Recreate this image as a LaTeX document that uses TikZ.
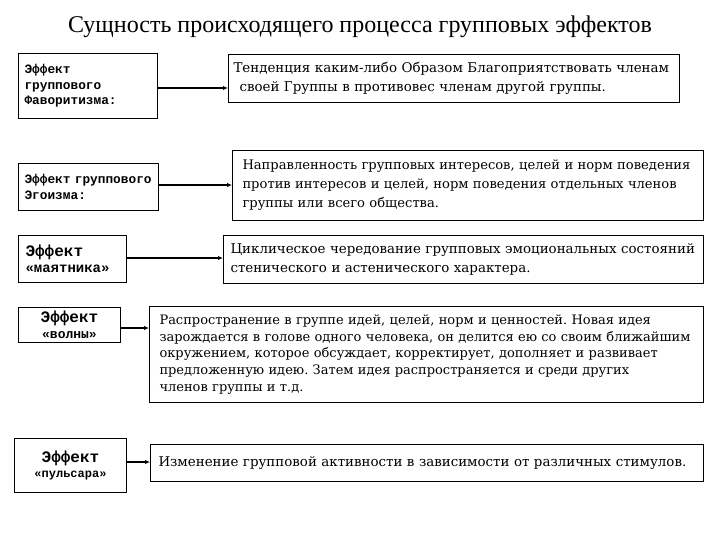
\documentclass[tikz,border=0pt]{standalone}
\usepackage{fontspec}
\setmainfont{DejaVu Serif}
\newfontfamily\tfont{Liberation Serif}
\newfontfamily\lfont{Liberation Mono}
\usetikzlibrary{arrows.meta}
\frenchspacing
\newcommand{\tline}[1]{\mbox{#1}}
\begin{document}
\begin{tikzpicture}[x=1pt,y=-1pt,
  lbox/.style={draw, line width=1pt, anchor=north west, inner ysep=0pt, font={\lfont\bfseries\fontsize{12.8}{15.5}\selectfont}},
  rbox/.style={draw, line width=1pt, anchor=north west, inner ysep=0pt, align=left, font={\frenchspacing\fontsize{13.4}{19}\selectfont}},
  arr/.style={-{Latex[length=5pt,width=4.5pt]}, line width=1.6pt}]
\useasboundingbox (0,0) rectangle (720,540);
\node[font={\tfont\fontsize{24}{28}\selectfont}] (title) at (360,27) {Сущность происходящего процесса групповых эффектов};

\node[lbox, align=left, inner xsep=6pt, text width=127pt, minimum height=65pt] (L1) at (18,53) {Эффект\\группового\\Фаворитизма:};
\node[rbox, inner xsep=5pt, text width=441pt, minimum height=48pt] (R1) at (228,54)
  {\tline{Тенденция каким-либо Образом Благоприятствовать членам}\\\tline{\hspace*{6pt}своей Группы в противовес членам другой группы.}};

\node[lbox, align=left, inner xsep=4pt, text width=132pt, minimum height=47pt] (L2) at (18,163) {\hspace*{2pt}Эффект группового\\\hspace*{2pt}Эгоизма:};
\node[rbox, inner xsep=10pt, text width=451pt, minimum height=70pt, font={\frenchspacing\fontsize{13.1}{19}\selectfont}] (R2) at (232,150)
  {\tline{Направленность групповых интересов, целей и норм поведения}\\\tline{против интересов и целей, норм поведения отдельных членов}\\\tline{группы или всего общества.}};

\node[lbox, align=left, inner xsep=7pt, text width=94pt, minimum height=47pt] (L3) at (18,235)
  {{\fontsize{16}{18}\selectfont Эффект}\\{\fontsize{14}{18}\selectfont «маятника»}};
\node[rbox, inner xsep=7pt, text width=466pt, minimum height=48pt] (R3) at (223,235)
  {\tline{Циклическое чередование групповых эмоциональных состояний}\\\tline{стенического и астенического характера.}};

\node[lbox, align=center, inner xsep=6pt, text width=90pt, minimum height=35pt] (L4) at (18,307)
  {{\fontsize{16}{18}\selectfont Эффект}\\{\fontsize{13}{16}\selectfont «волны»}};
\node[rbox, inner xsep=10pt, text width=534pt, minimum height=96pt, font={\frenchspacing\fontsize{13}{16.8}\selectfont}] (R4) at (149,306)
  {\tline{Распространение в группе идей, целей, норм и ценностей. Новая идея}\\\tline{зарождается в голове одного человека, он делится ею со своим ближайшим}\\\tline{окружением, которое обсуждает, корректирует, дополняет и развивает}\\\tline{предложенную идею. Затем идея распространяется и среди других}\\\tline{членов группы и т.д.}};

\node[lbox, align=center, inner xsep=6pt, text width=100pt, minimum height=54pt] (L5) at (14,438)
  {{\fontsize{16}{18}\selectfont Эффект}\\{\fontsize{12}{16}\selectfont «пульсара»}};
\node[rbox, inner xsep=8pt, text width=537pt, minimum height=37pt] (R5) at (150,444)
  {\tline{Изменение групповой активности в зависимости от различных стимулов.}};

\draw[arr] (L1.east |- 0,88) -- (R1.west |- 0,88);
\draw[arr] (L2.east |- 0,185) -- (R2.west |- 0,185);
\draw[arr] (L3.east |- 0,258) -- (R3.west |- 0,258);
\draw[arr] (L4.east |- 0,328) -- (R4.west |- 0,328);
\draw[arr] (L5.east |- 0,462) -- (R5.west |- 0,462);
\end{tikzpicture}
\end{document}
